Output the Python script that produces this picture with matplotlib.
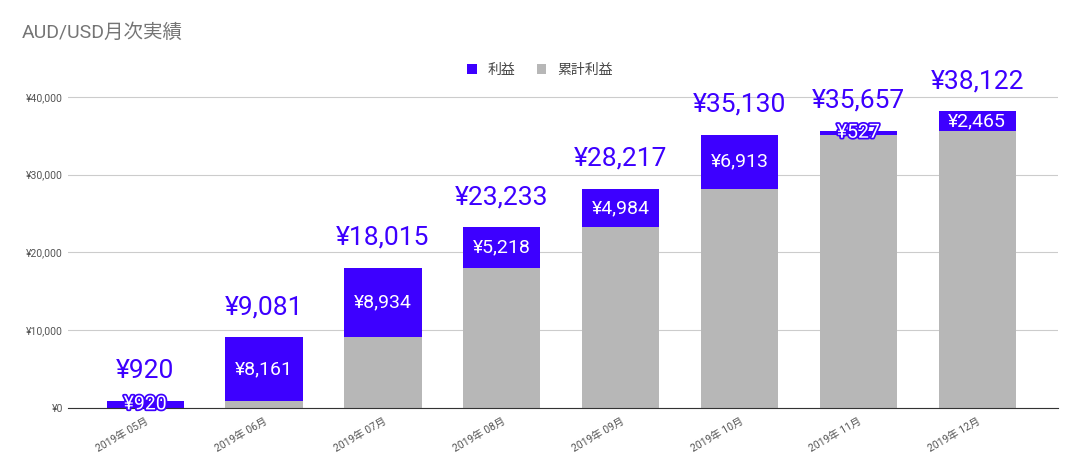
import matplotlib
matplotlib.use("Agg")
from matplotlib import pyplot as plt
import matplotlib.patheffects as pe
import numpy as np

plt.rcParams['font.family'] = ['Roboto', 'Noto Sans CJK JP', 'DejaVu Sans']

months = ['2019年 05月', '2019年 06月', '2019年 07月', '2019年 08月',
          '2019年 09月', '2019年 10月', '2019年 11月', '2019年 12月']
profit = [920, 8161, 8934, 5218, 4984, 6913, 527, 2465]
cumulative = [0, 920, 9081, 18015, 23233, 28217, 35130, 35657]

blue = '#3d00ff'
gray = '#b7b7b7'

fig = plt.figure(figsize=(10.73, 4.67), dpi=100)
ax = fig.add_axes([68/1073, (467-408)/467, (1058-68)/1073, (408-58)/467])

x = np.arange(len(months))
ax.bar(x, cumulative, width=0.65, color=gray, label='累計利益', zorder=2)
ax.bar(x, profit, width=0.65, bottom=cumulative, color=blue, label='利益', zorder=2)

for i in range(len(x)):
    total = cumulative[i] + profit[i]
    ax.text(x[i], total + 2300, f'¥{total:,}', ha='center', va='bottom',
            fontsize=19, color=blue)
    t = ax.text(x[i], cumulative[i] + profit[i] / 2, f'¥{profit[i]:,}',
                ha='center', va='center', fontsize=14, color='white')
    if profit[i] < 2000:
        t.set_path_effects([pe.withStroke(linewidth=2.5, foreground=blue)])

ax.set_ylim(0, 45000)
ax.set_xlim(-0.65, len(x) - 1 + 0.68)
ax.set_yticks([0, 10000, 20000, 30000, 40000])
ax.set_yticklabels(['¥0', '¥10,000', '¥20,000', '¥30,000', '¥40,000'])
ax.set_xticks(x)
ax.set_xticklabels(months, rotation=30, ha='right', rotation_mode='anchor')
ax.tick_params(axis='both', length=0, labelsize=7.5, colors='#555555')
ax.tick_params(axis='x', pad=6)
ax.grid(axis='y', color='#cccccc', linewidth=0.8, zorder=0)
for s in ['top', 'right', 'left']:
    ax.spines[s].set_visible(False)
ax.spines['bottom'].set_color('#333333')

handles, labels = ax.get_legend_handles_labels()
fig.legend(handles[::-1], labels[::-1], loc='center', bbox_to_anchor=(540/1073, 1 - 70/467),
           ncol=2, frameon=False, fontsize=10, handlelength=0.7, handleheight=0.7,
           labelcolor='#444444', columnspacing=1.5)
fig.text(22/1073, 1 - 33/467, 'AUD/USD月次実績', fontsize=14, color='#757575', va='center')

fig.savefig('out.png', dpi=100)
